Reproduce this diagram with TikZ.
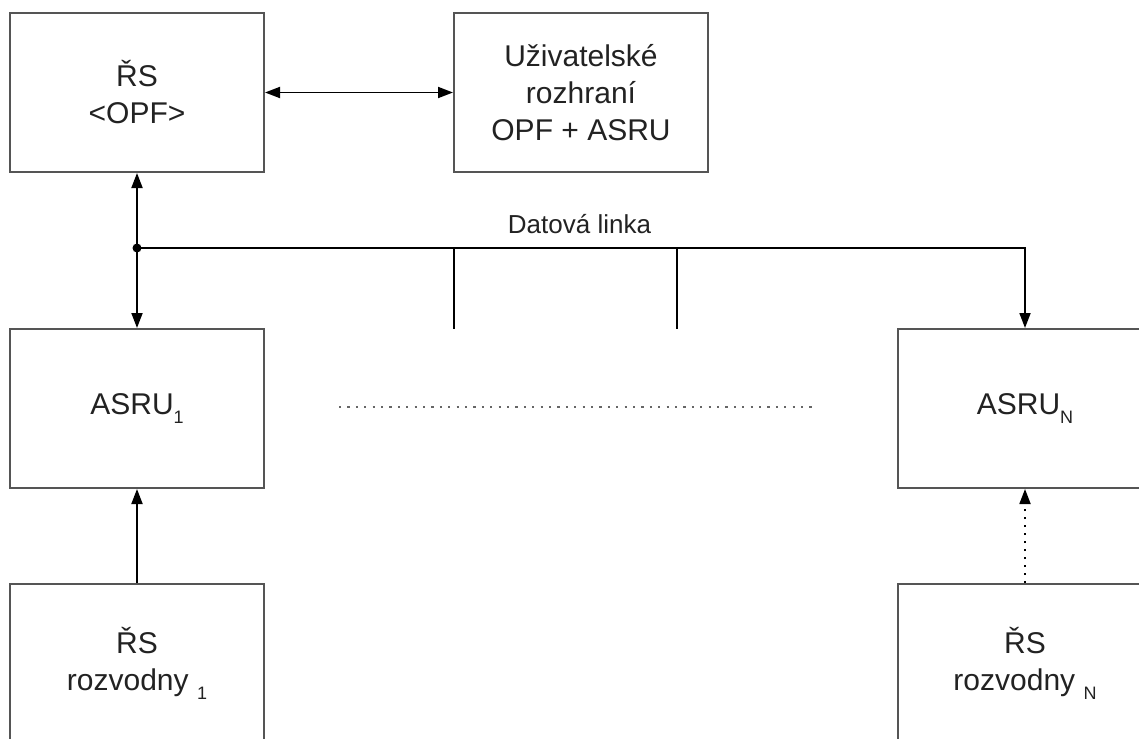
\documentclass[tikz,border=0pt]{standalone}
\usepackage{fontspec}
\setmainfont{Liberation Sans}
\usetikzlibrary{arrows.meta}
\definecolor{boxgray}{HTML}{555555}
\definecolor{inkgray}{HTML}{222222}
\newcommand{\lowidx}[1]{\raisebox{-9pt}{\fontsize{18}{18}\selectfont #1}}
\begin{document}
\begin{tikzpicture}[x=1pt,y=-1pt,
  blk/.style={draw=boxgray, line width=2pt, minimum width=254pt, minimum height=159pt,
    inner sep=0pt, align=center, text=inkgray, font=\fontsize{30}{37}\selectfont},
  link/.style={draw=black, line width=1.8pt},
  tipend/.style={-{Triangle[length=15pt,width=11pt]}},
  tipboth/.style={{Triangle[length=15pt,width=11pt]}-{Triangle[length=15pt,width=11pt]}},
  lbl/.style={text=inkgray, font=\fontsize{26}{30}\selectfont, inner sep=0pt}
]
\useasboundingbox (0,0) rectangle (1139,738);
\clip (0,0) rectangle (1139,738);

% blocks
\node[blk] (opf) at (137,92.5) {ŘS\\<OPF>};
\node[blk] (ui) at (581,92.5) {Uživatelské\\rozhraní\\OPF + ASRU};
\node[blk] (asru1) at (137,408.5) {ASRU\lowidx{1}};
\node[blk] (asruN) at (1025,408.5) {ASRU\lowidx{N}};
\node[blk] (rs1) at (137,663.5) {ŘS\\rozvodny \lowidx{1}};
\node[blk] (rsN) at (1025,663.5) {ŘS\\rozvodny \lowidx{N}};

% data bus
\coordinate (j) at (137,248);
\coordinate (s1) at (454,248);
\coordinate (s1e) at (454,329);
\coordinate (s2) at (677,248);
\coordinate (s2e) at (677,329);
\node[lbl, anchor=base] (bus) at (579.5,233) {Datová linka};

\draw[link, tipboth] (opf.east) -- (ui.west);
\draw[link, tipend] (j) -- (opf.south);
\draw[link, tipend] (j) -- (asru1.north);
\draw[link, tipend] (j) -| (asruN.north);
\fill (j) circle (4.5pt);
\draw[link] (s1) -- (s1e);
\draw[link] (s2) -- (s2e);

% substation links
\draw[link, tipend] (rs1.north) -- (asru1.south);
\draw[link, tipend, dash pattern=on 1.8pt off 6.2pt] (rsN.north) -- (asruN.south);

% omitted units
\draw[black!60, line width=2.2pt, dash pattern=on 2.2pt off 6.2pt] (339,407) -- (812,407);
\end{tikzpicture}
\end{document}
